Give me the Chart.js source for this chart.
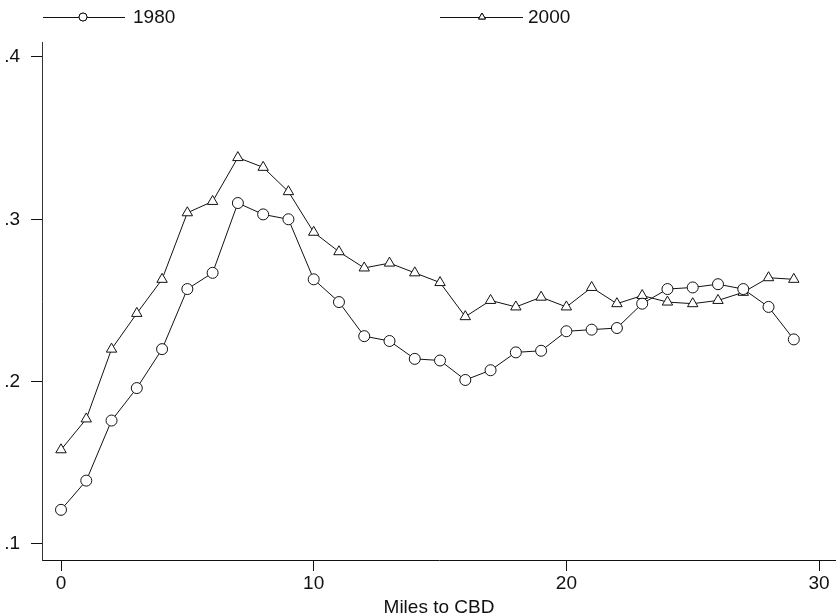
<!DOCTYPE html>
<html><head><meta charset="utf-8">
<script src="https://cdn.jsdelivr.net/npm/chart.js@4"></script>
<style>html,body{margin:0;padding:0;background:#fff}#wrap{width:836px;height:614px}</style>
</head><body><div id="wrap"><canvas id="c" width="836" height="614"></canvas></div>
<script>
const miles = [0,1,2,3,4,5,6,7,8,9,10,11,12,13,14,15,16,17,18,19,20,21,22,23,24,25,26,27,28,29];
const share1980 = [0.121,0.139,0.176,0.196,0.220,0.257,0.267,0.310,0.303,0.300,0.263,0.249,0.228,0.225,0.214,0.213,0.201,0.207,0.218,0.219,0.231,0.232,0.233,0.248,0.257,0.258,0.260,0.257,0.246,0.226];
const share2000 = [0.158,0.177,0.220,0.242,0.263,0.304,0.311,0.338,0.332,0.317,0.292,0.280,0.270,0.273,0.267,0.261,0.240,0.250,0.246,0.252,0.246,0.258,0.248,0.253,0.249,0.248,0.250,0.255,0.264,0.263];
const seriesLabels = ['1980','2000'];
const xTicks = [0,10,20,30];
const yTicks = [0.1,0.2,0.3,0.4];
const xTitle = 'Miles to CBD';

const FONT = {family:'"Liberation Sans", Arial, Helvetica, sans-serif', size:19};
const INK = '#111';

function pts(vals){ return miles.map((m,i)=>({x:m,y:vals[i]})); }

const legendPlugin = {
  id:'stataLegend',
  afterDraw(chart){
    const ctx = chart.ctx;
    const items = [
      {x0:43, x1:125, mx:83, tx:133, style:'circle'},
      {x0:440, x1:523, mx:482, tx:528, style:'triangle'}
    ];
    const y = 17;
    ctx.save();
    items.forEach((it,i)=>{
      ctx.strokeStyle = INK; ctx.lineWidth = 1;
      ctx.beginPath(); ctx.moveTo(it.x0,y+0.5); ctx.lineTo(it.x1,y+0.5); ctx.stroke();
      ctx.fillStyle = '#fff';
      Chart.helpers.drawPoint(ctx,{pointStyle:it.style,radius:4,borderWidth:1,rotation:0},it.mx,y);
      ctx.fill(); ctx.stroke();
      ctx.fillStyle = INK;
      ctx.font = FONT.size+'px '+FONT.family;
      ctx.textBaseline = 'middle'; ctx.textAlign = 'left';
      ctx.fillText(seriesLabels[i], it.tx, y+1);
    });
    ctx.restore();
  }
};

new Chart(document.getElementById('c'),{
  type:'line',
  data:{datasets:[
    {label:seriesLabels[0], data:pts(share1980), borderColor:INK, borderWidth:1, pointStyle:'circle', pointRadius:5.5, pointBorderWidth:1, pointBorderColor:INK, pointBackgroundColor:'#fff', tension:0},
    {label:seriesLabels[1], data:pts(share2000), borderColor:INK, borderWidth:1, pointStyle:'triangle', pointRadius:6, pointBorderWidth:1, pointBorderColor:INK, pointBackgroundColor:'#fff', tension:0}
  ]},
  options:{
    responsive:false, animation:false,
    layout:{autoPadding:false, padding:{top:42,left:0,right:0,bottom:0}},
    plugins:{legend:{display:false}, tooltip:{enabled:false}},
    scales:{
      x:{type:'linear', min:-0.752, max:30.67,
        afterBuildTicks:s=>{s.ticks = xTicks.map(v=>({value:v}));},
        afterFit:s=>{s.height = 54; s.paddingLeft = 0; s.paddingRight = 0;},
        grid:{drawOnChartArea:false, drawTicks:true, tickLength:11, color:INK, tickColor:INK},
        border:{display:true, color:INK, width:1},
        ticks:{font:FONT, color:INK, padding:1, maxRotation:0, autoSkip:false, callback:v=>String(v)},
        title:{display:true, text:xTitle, font:FONT, color:INK, padding:{top:0,bottom:-5}}
      },
      y:{type:'linear', min:0.0901, max:0.4092,
        afterBuildTicks:s=>{s.ticks = yTicks.map(v=>({value:v}));},
        afterFit:s=>{s.width = 42; s.paddingTop = 0; s.paddingBottom = 0;},
        grid:{drawOnChartArea:false, drawTicks:true, tickLength:11, color:INK, tickColor:INK},
        border:{display:true, color:'#333', width:1},
        ticks:{font:FONT, color:INK, padding:11, autoSkip:false, callback:v=>v.toFixed(1).replace(/^0/,'')}
      }
    }
  },
  plugins:[legendPlugin]
});
</script>
</body></html>
